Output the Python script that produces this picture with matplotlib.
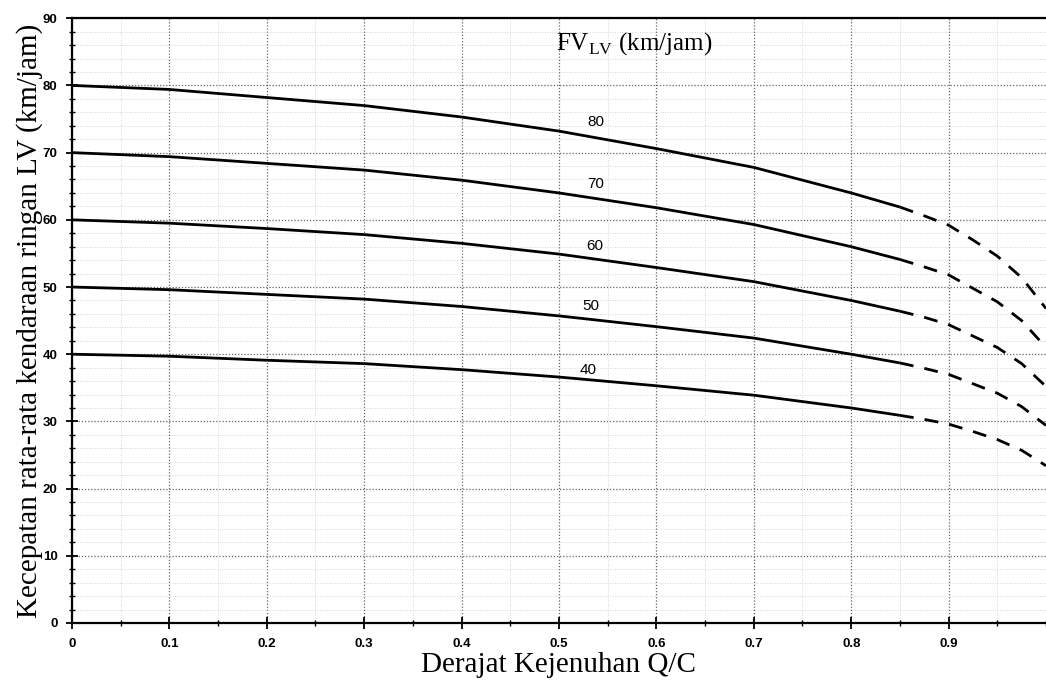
import matplotlib
matplotlib.use("Agg")
import matplotlib.pyplot as plt
from matplotlib.ticker import MultipleLocator, FixedLocator

# degree of saturation (Q/C) where the curves are read
qc_solid = [0, 0.1, 0.2, 0.3, 0.4, 0.5, 0.6, 0.7, 0.8, 0.85]
qc_dash = [0.85, 0.875, 0.9, 0.925, 0.95, 0.975, 1.0]

# light vehicle speed (km/jam) per free-flow speed curve
v_solid = {
    "80": [80, 79.4, 78.2, 77.0, 75.3, 73.2, 70.6, 67.8, 64.0, 61.9],
    "70": [70, 69.4, 68.4, 67.4, 65.9, 64.0, 61.8, 59.3, 56.0, 54.1],
    "60": [60, 59.5, 58.7, 57.8, 56.5, 54.9, 52.9, 50.8, 48.0, 46.4],
    "50": [50, 49.6, 48.9, 48.2, 47.1, 45.7, 44.1, 42.4, 40.0, 38.7],
    "40": [40, 39.7, 39.1, 38.6, 37.7, 36.6, 35.3, 33.9, 32.0, 30.9],
}
v_dash = {
    "80": [61.9, 60.6, 59.2, 57.0, 54.6, 51.4, 46.8],
    "70": [54.1, 53.0, 51.8, 49.8, 47.8, 45.0, 41.0],
    "60": [46.4, 45.5, 44.4, 42.7, 41.0, 38.6, 35.2],
    "50": [38.7, 37.9, 37.0, 35.6, 34.2, 32.2, 29.4],
    "40": [30.9, 30.3, 29.6, 28.5, 27.3, 25.7, 23.4],
}
# curve label positions (Q/C, speed)
label_pos = {
    "80": (0.538, 74.5),
    "70": (0.538, 65.3),
    "60": (0.537, 56.1),
    "50": (0.533, 47.2),
    "40": (0.530, 37.7),
}

x_ticks = [0, 0.1, 0.2, 0.3, 0.4, 0.5, 0.6, 0.7, 0.8, 0.9]
x_ticklabels = ["0", "0.1", "0.2", "0.3", "0.4", "0.5", "0.6", "0.7", "0.8", "0.9"]
y_ticks = [0, 10, 20, 30, 40, 50, 60, 70, 80, 90]

plt.rcParams["mathtext.fontset"] = "custom"
plt.rcParams["mathtext.rm"] = "Liberation Serif"

fig = plt.figure(figsize=(10.46, 6.88), dpi=100)
ax = fig.add_axes([0.0688, 0.0945, 0.9312, 0.879])

for key in v_solid:
    ax.plot(qc_solid, v_solid[key], color="black", lw=2.0, solid_capstyle="butt")
    ax.plot(qc_dash, v_dash[key], color="black", lw=2.0,
            linestyle=(0, (5, 4)))
    lx, ly = label_pos[key]
    ax.text(lx, ly, key, fontsize=11, family="Liberation Sans",
            ha="center", va="center")

ax.text(0.497, 86.3, r"FV$_{\mathrm{LV}}$ (km/jam)", fontsize=18,
        family="Liberation Serif", ha="left", va="center")

ax.set_xlim(0, 1.0)
ax.set_ylim(0, 90)

ax.xaxis.set_major_locator(FixedLocator(x_ticks))
ax.set_xticklabels(x_ticklabels)
ax.xaxis.set_minor_locator(MultipleLocator(0.05))
ax.yaxis.set_major_locator(FixedLocator(y_ticks))
ax.yaxis.set_minor_locator(MultipleLocator(2))

ax.tick_params(axis="both", which="major", direction="inout", length=9,
               width=1.3, labelsize=9.5, pad=6)
ax.tick_params(axis="both", which="minor", direction="inout", length=5,
               width=1.0)
for lab in ax.get_xticklabels() + ax.get_yticklabels():
    lab.set_family("Liberation Sans")
    lab.set_fontweight("bold")

ax.grid(which="major", color="0.4", linestyle=(0, (1, 1.5)), lw=0.9)
ax.grid(which="minor", color="0.78", linestyle=(0, (1, 2)), lw=0.6)
ax.set_axisbelow(True)

ax.spines["right"].set_visible(False)
for s in ["left", "bottom", "top"]:
    ax.spines[s].set_linewidth(1.6)

ax.set_xlabel("Derajat Kejenuhan Q/C", fontsize=21, family="Liberation Serif",
              labelpad=2)
ax.set_ylabel("Kecepatan rata-rata kendaraan ringan LV (km/jam)", fontsize=21,
              family="Liberation Serif", labelpad=0)

fig.savefig("out.png", dpi=100)
